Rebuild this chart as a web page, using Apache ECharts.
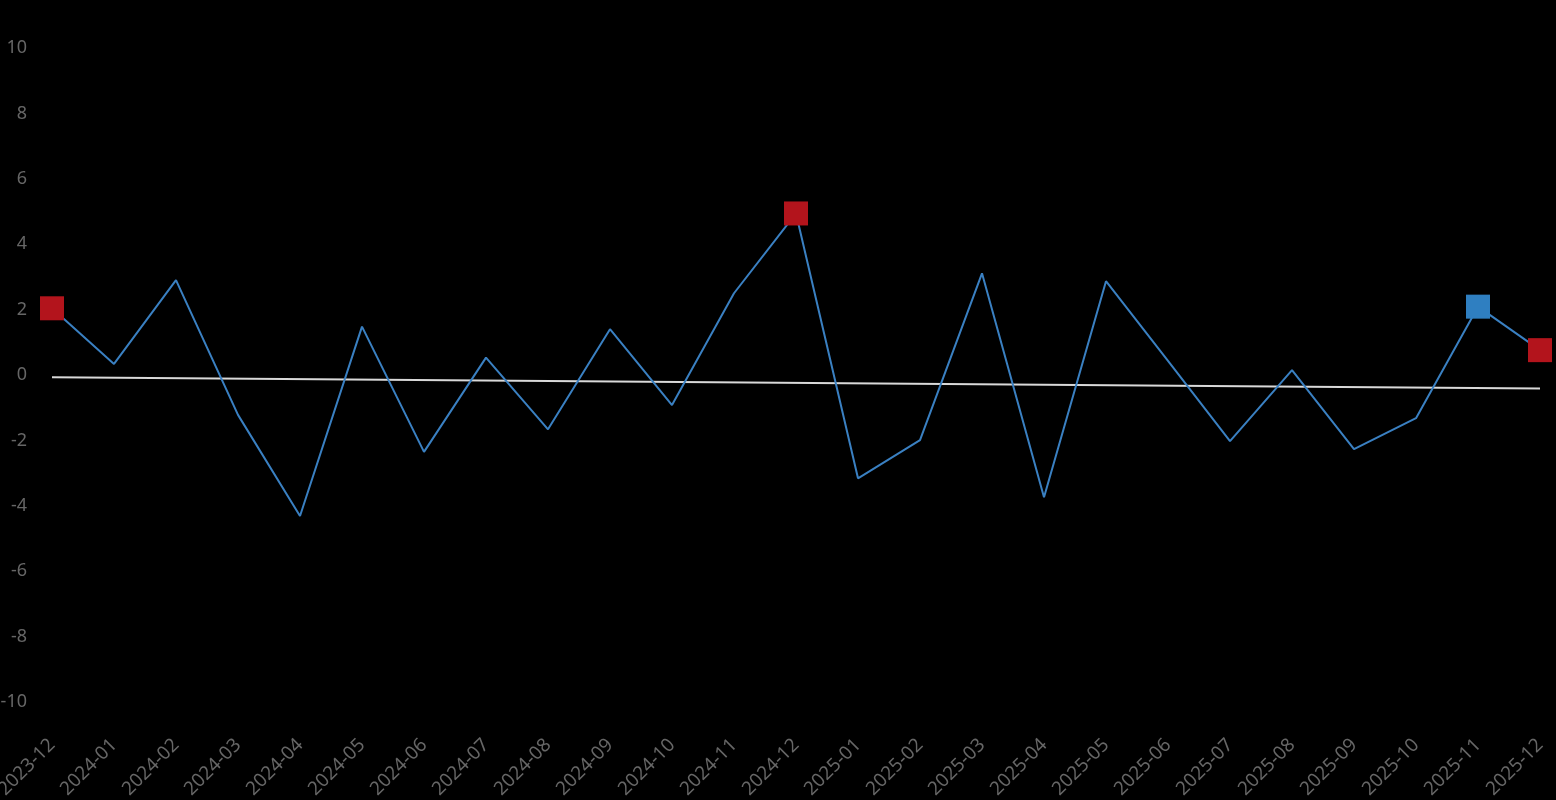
<!DOCTYPE html>
<html>
<head>
<meta charset="utf-8">
<script src="https://cdn.jsdelivr.net/npm/echarts@6/dist/echarts.min.js"></script>
<style>
html,body{margin:0;padding:0;background:#000;}
#main{width:1556px;height:800px;}
</style>
</head>
<body>
<div id="main"></div>
<script>
const categories = ['2023-12','2024-01','2024-02','2024-03','2024-04','2024-05','2024-06','2024-07','2024-08','2024-09','2024-10','2024-11','2024-12','2025-01','2025-02','2025-03','2025-04','2025-05','2025-06','2025-07','2025-08','2025-09','2025-10','2025-11','2025-12'];
const values = [2.04, 0.34, 2.9, -1.22, -4.31, 1.48, -2.35, 0.53, -1.66, 1.40, -0.92, 2.50, 4.94, -3.16, -1.99, 3.11, -3.74, 2.87, 0.43, -2.02, 0.15, -2.27, -1.32, 2.09, 0.76];
const trendStart = -0.07;
const trendEnd = -0.41;
const redPoints = ['2023-12','2024-12','2025-12'];
const bluePoints = ['2025-11'];
const yTicks = [-10,-8,-6,-4,-2,0,2,4,6,8,10];

const trendData = categories.map((c,i)=> i===0 ? trendStart : (i===categories.length-1 ? trendEnd : null));
const markerData = categories.map((c,i)=>{
  if (redPoints.includes(c)) return {value: values[i], itemStyle:{color:'#b3141c'}};
  if (bluePoints.includes(c)) return {value: values[i], itemStyle:{color:'#2f7fc1'}};
  return null;
});

const chart = echarts.init(document.getElementById('main'));
chart.setOption({
  backgroundColor:'#000',
  animation:false,
  grid:{left:52,right:16,top:48,bottom:98,containLabel:false,outerBoundsMode:'none'},
  xAxis:{
    type:'category',
    data:categories,
    boundaryGap:false,
    axisLine:{show:false},
    axisTick:{show:false},
    splitLine:{show:false},
    axisLabel:{rotate:45,margin:40,color:'#666666',fontSize:19,fontFamily:'Noto Sans',interval:0,hideOverlap:false}
  },
  yAxis:{
    type:'value',
    min:yTicks[0],
    max:yTicks[yTicks.length-1],
    interval:2,
    axisLine:{show:false},
    axisTick:{show:false},
    splitLine:{show:false},
    axisLabel:{margin:25,color:'#666666',fontSize:18,fontFamily:'Noto Sans'}
  },
  series:[
    {
      type:'line',
      data:trendData,
      connectNulls:true,
      showSymbol:false,
      symbol:'none',
      lineStyle:{color:'#d9d9d9',width:2},
      z:2
    },
    {
      type:'line',
      data:values,
      symbol:'none',
      lineStyle:{color:'#3a80c2',width:2},
      z:3
    },
    {
      type:'line',
      data:markerData,
      symbol:'rect',
      symbolSize:24,
      showSymbol:true,
      lineStyle:{opacity:0,width:0},
      connectNulls:false,
      z:4
    }
  ]
});
</script>
</body>
</html>
